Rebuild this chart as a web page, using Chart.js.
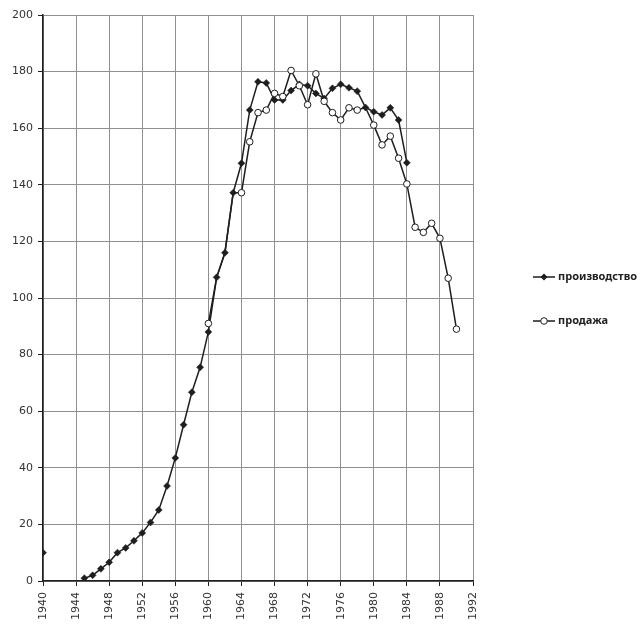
<!DOCTYPE html>
<html>
<head>
<meta charset="utf-8">
<script src="https://cdn.jsdelivr.net/npm/chart.js@4"></script>
<style>
  html, body { margin: 0; padding: 0; background: #fff; }
  #wrap { width: 644px; height: 625px; }
</style>
</head>
<body>
<div id="wrap"><canvas id="carChart" width="644" height="625"></canvas></div>
<script>
// ===========================
// Data
// ===========================
const years = [
  1940, 1941, 1942, 1943, 1944, 1945, 1946, 1947, 1948, 1949,
  1950, 1951, 1952, 1953, 1954, 1955, 1956, 1957, 1958, 1959,
  1960, 1961, 1962, 1963, 1964, 1965, 1966, 1967, 1968, 1969,
  1970, 1971, 1972, 1973, 1974, 1975, 1976, 1977, 1978, 1979,
  1980, 1981, 1982, 1983, 1984, 1985, 1986, 1987, 1988, 1989,
  1990
];

const production = [
  10, null, null, null, null, 1, 2, 4.3, 6.6, 10,
  11.7, 14.2, 17, 20.7, 25.1, 33.6, 43.5, 55.2, 66.7, 75.5,
  88, 107.3, 116, 137.2, 147.6, 166.4, 176.4, 176, 170, 170,
  173.3, 175.5, 175, 172.3, 170.5, 174.1, 175.5, 174.3, 173.1, 167.3,
  165.8, 164.7, 167.2, 162.9, 147.8, null, null, null, null, null,
  null
];

// 1961-1963 sales run along the production line (markers hidden under it)
const sales = [
  null, null, null, null, null, null, null, null, null, null,
  null, null, null, null, null, null, null, null, null, null,
  91, 107.3, 116, 137.2, 137.2, 155.2, 165.5, 166.4, 172.3, 171.2,
  180.4, 175, 168.3, 179.2, 169.5, 165.5, 162.9, 167.2, 166.4, 167.3,
  161.1, 154.1, 157.2, 149.4, 140.3, 125, 123.2, 126.4, 121.1, 107,
  89
];

const seriesNames = ["производство", "продажа"];

const xMin = 1940, xMax = 1992, xStep = 4;
const yMin = 0, yMax = 200, yStep = 20;

const ink = "#1e1e1e";
const gridGray = "#8f8f8f";
const labelFont = { family: "DejaVu Sans", size: 11 };

function toPoints(values) {
  return years.map((y, i) => ({ x: y, y: values[i] }));
}

// legend drawn by hand: line with marker in the middle, like the original
const sideLegend = {
  id: "sideLegend",
  afterDraw(chart) {
    const ctx = chart.ctx;
    const area = chart.chartArea;
    const mid = (area.top + area.bottom) / 2;
    const x0 = area.right + 60;
    const rows = [
      { y: mid - 21, style: "diamond", text: seriesNames[0] },
      { y: mid + 23, style: "circle", text: seriesNames[1] }
    ];
    ctx.save();
    for (const r of rows) {
      ctx.strokeStyle = ink;
      ctx.lineWidth = 1.5;
      ctx.beginPath();
      ctx.moveTo(x0, r.y);
      ctx.lineTo(x0 + 22, r.y);
      ctx.stroke();
      const cx = x0 + 11;
      if (r.style === "diamond") {
        ctx.fillStyle = ink;
        ctx.beginPath();
        ctx.moveTo(cx, r.y - 3.5);
        ctx.lineTo(cx + 3.5, r.y);
        ctx.lineTo(cx, r.y + 3.5);
        ctx.lineTo(cx - 3.5, r.y);
        ctx.closePath();
        ctx.fill();
      } else {
        ctx.fillStyle = "#fff";
        ctx.lineWidth = 1;
        ctx.beginPath();
        ctx.arc(cx, r.y, 3.3, 0, Math.PI * 2);
        ctx.fill();
        ctx.stroke();
      }
      ctx.fillStyle = "#222";
      ctx.font = "bold 11px 'Noto Sans'";
      ctx.textBaseline = "middle";
      ctx.textAlign = "left";
      ctx.fillText(r.text, x0 + 25, r.y);
    }
    ctx.restore();
  }
};

new Chart(document.getElementById("carChart"), {
  type: "line",
  data: {
    datasets: [
      {
        label: seriesNames[0],
        data: toPoints(production),
        borderColor: ink,
        borderWidth: 1.5,
        pointStyle: "rectRot",
        pointRadius: 3.5,
        pointBackgroundColor: ink,
        pointBorderColor: ink,
        pointBorderWidth: 0.5,
        tension: 0,
        spanGaps: false,
        order: 1
      },
      {
        label: seriesNames[1],
        data: toPoints(sales),
        borderColor: ink,
        borderWidth: 1.5,
        pointStyle: "circle",
        // no visible circle where sales sit exactly on the production curve
        pointRadius: c => (sales[c.dataIndex] === production[c.dataIndex] ? 0 : 3.3),
        pointBackgroundColor: "#fff",
        pointBorderColor: ink,
        pointBorderWidth: 1,
        tension: 0,
        spanGaps: true,
        order: 0
      }
    ]
  },
  options: {
    responsive: false,
    animation: false,
    layout: { padding: { top: 15, right: 171, left: 0, bottom: 0 } },
    plugins: {
      legend: { display: false },
      tooltip: { enabled: false }
    },
    scales: {
      x: {
        type: "linear",
        min: xMin,
        max: xMax,
        afterBuildTicks: scale => {
          const t = [];
          for (let v = xMin; v <= xMax; v += xStep) t.push({ value: v });
          scale.ticks = t;
        },
        afterFit: scale => { scale.height = 44; },
        grid: { color: gridGray, lineWidth: 1, tickLength: 5, tickColor: ink },
        border: { color: ink, width: 1.5 },
        ticks: {
          minRotation: 90,
          maxRotation: 90,
          padding: 6,
          color: "#333",
          font: labelFont,
          callback: v => String(v)
        }
      },
      y: {
        min: yMin,
        max: yMax,
        ticks: { stepSize: yStep, color: "#333", font: labelFont, padding: 5 },
        afterFit: scale => { scale.width = 43; },
        grid: { color: gridGray, lineWidth: 1, tickLength: 5, tickColor: ink },
        border: { color: ink, width: 1.5 }
      }
    }
  },
  plugins: [sideLegend]
});
</script>
</body>
</html>
